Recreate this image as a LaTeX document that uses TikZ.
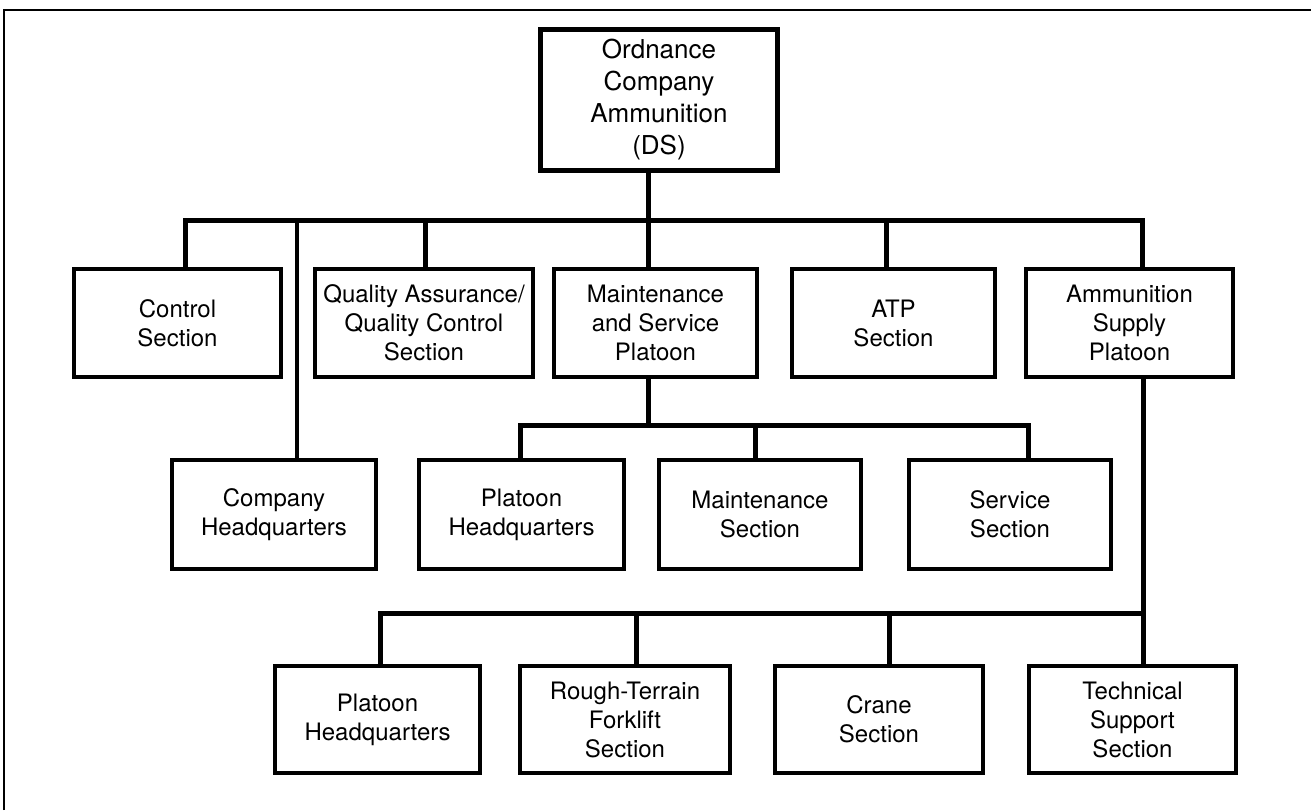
\documentclass[tikz,border=0pt]{standalone}
\usepackage{fontspec}
\setmainfont{TeX Gyre Heros}
\begin{document}
\begin{tikzpicture}[x=0.5pt,y=-0.5pt,
  box/.style={draw, line width=2pt, align=center, inner sep=0pt,
    font=\fontsize{12}{14.5}\selectfont, minimum height=54pt},
  topbox/.style={draw, line width=2.4pt, align=center, inner sep=0pt,
    font=\fontsize{13}{16}\selectfont, minimum width=118.5pt, minimum height=70.5pt},
  bus/.style={line width=2.5pt, line join=miter},
  thinlink/.style={line width=1.7pt},
  frame/.style={line width=1pt}]
\useasboundingbox (0,0) rectangle (1311,810);
\draw[frame] (4,810) -- (4,10) -- (1311,10);

% nodes
\node[topbox] (top) at (659,100) {Ordnance\\Company\\Ammunition\\(DS)};

\node[box, minimum width=103.5pt] (ctrl) at (177.5,323) {Control\\Section};
\node[box, minimum width=109pt]   (qa)   at (424,323) {Quality Assurance/\\Quality Control\\Section};
\node[box, minimum width=101.5pt] (ms)   at (655.5,323) {Maintenance\\and Service\\Platoon};
\node[box, minimum width=101.5pt] (atp)  at (893.5,323) {ATP\\Section};
\node[box, minimum width=103.5pt] (asp)  at (1129.5,323) {Ammunition\\Supply\\Platoon};

\node[box, minimum width=102pt, minimum height=54.5pt]   (chq)  at (274,514.5) {Company\\Headquarters};
\node[box, minimum width=102.5pt, minimum height=54.5pt] (phqa) at (521.5,514.5) {Platoon\\Headquarters};
\node[box, minimum width=101pt, minimum height=54.5pt]   (mnt)  at (760,514.5) {Maintenance\\Section};
\node[box, minimum width=101pt, minimum height=54.5pt]   (svc)  at (1010,514.5) {Service\\Section};

\node[box, minimum width=102.5pt, minimum height=53.5pt] (phqb) at (377.5,719.5) {Platoon\\Headquarters};
\node[box, minimum width=105pt, minimum height=53.5pt]   (rtf)  at (625,719.5) {Rough-Terrain\\Forklift\\Section};
\node[box, minimum width=104pt, minimum height=53.5pt]   (crn)  at (879,719.5) {Crane\\Section};
\node[box, minimum width=103.5pt, minimum height=53.5pt] (tech) at (1132.5,719.5) {Technical\\Support\\Section};

% bus 1
\coordinate (k1) at (185,220);
\coordinate (k2) at (297,220);
\coordinate (k3) at (425,220);
\coordinate (k4) at (648,220);
\coordinate (k5) at (886,220);
\coordinate (k6) at (1142,220);
\draw[bus] (top.south -| k4) -- (ms.north -| k4);
\draw[bus] (ctrl.north -| k1) -- (k1) -- (k6) -- (asp.north -| k6);
\draw[bus] (k3) -- (qa.north -| k3);
\draw[bus] (k5) -- (atp.north -| k5);
\draw[thinlink] (k2) -- (chq.north -| k2);

% bus 2
\coordinate (m0) at (648,425);
\coordinate (m1) at (520,425);
\coordinate (m2) at (755,425);
\coordinate (m3) at (1028,425);
\draw[bus] (ms.south -| m0) -- (m0);
\draw[bus] (phqa.north -| m1) -- (m1) -- (m3) -- (svc.north -| m3);
\draw[bus] (m2) -- (mnt.north -| m2);

% bus 3
\coordinate (n1) at (380,613);
\coordinate (n2) at (636,613);
\coordinate (n3) at (889,613);
\coordinate (n4) at (1143,613);
\draw[bus] (asp.south -| n4) -- (tech.north -| n4);
\draw[bus] (phqb.north -| n1) -- (n1) -- (n4);
\draw[bus] (n2) -- (rtf.north -| n2);
\draw[bus] (n3) -- (crn.north -| n3);
\end{tikzpicture}
\end{document}
